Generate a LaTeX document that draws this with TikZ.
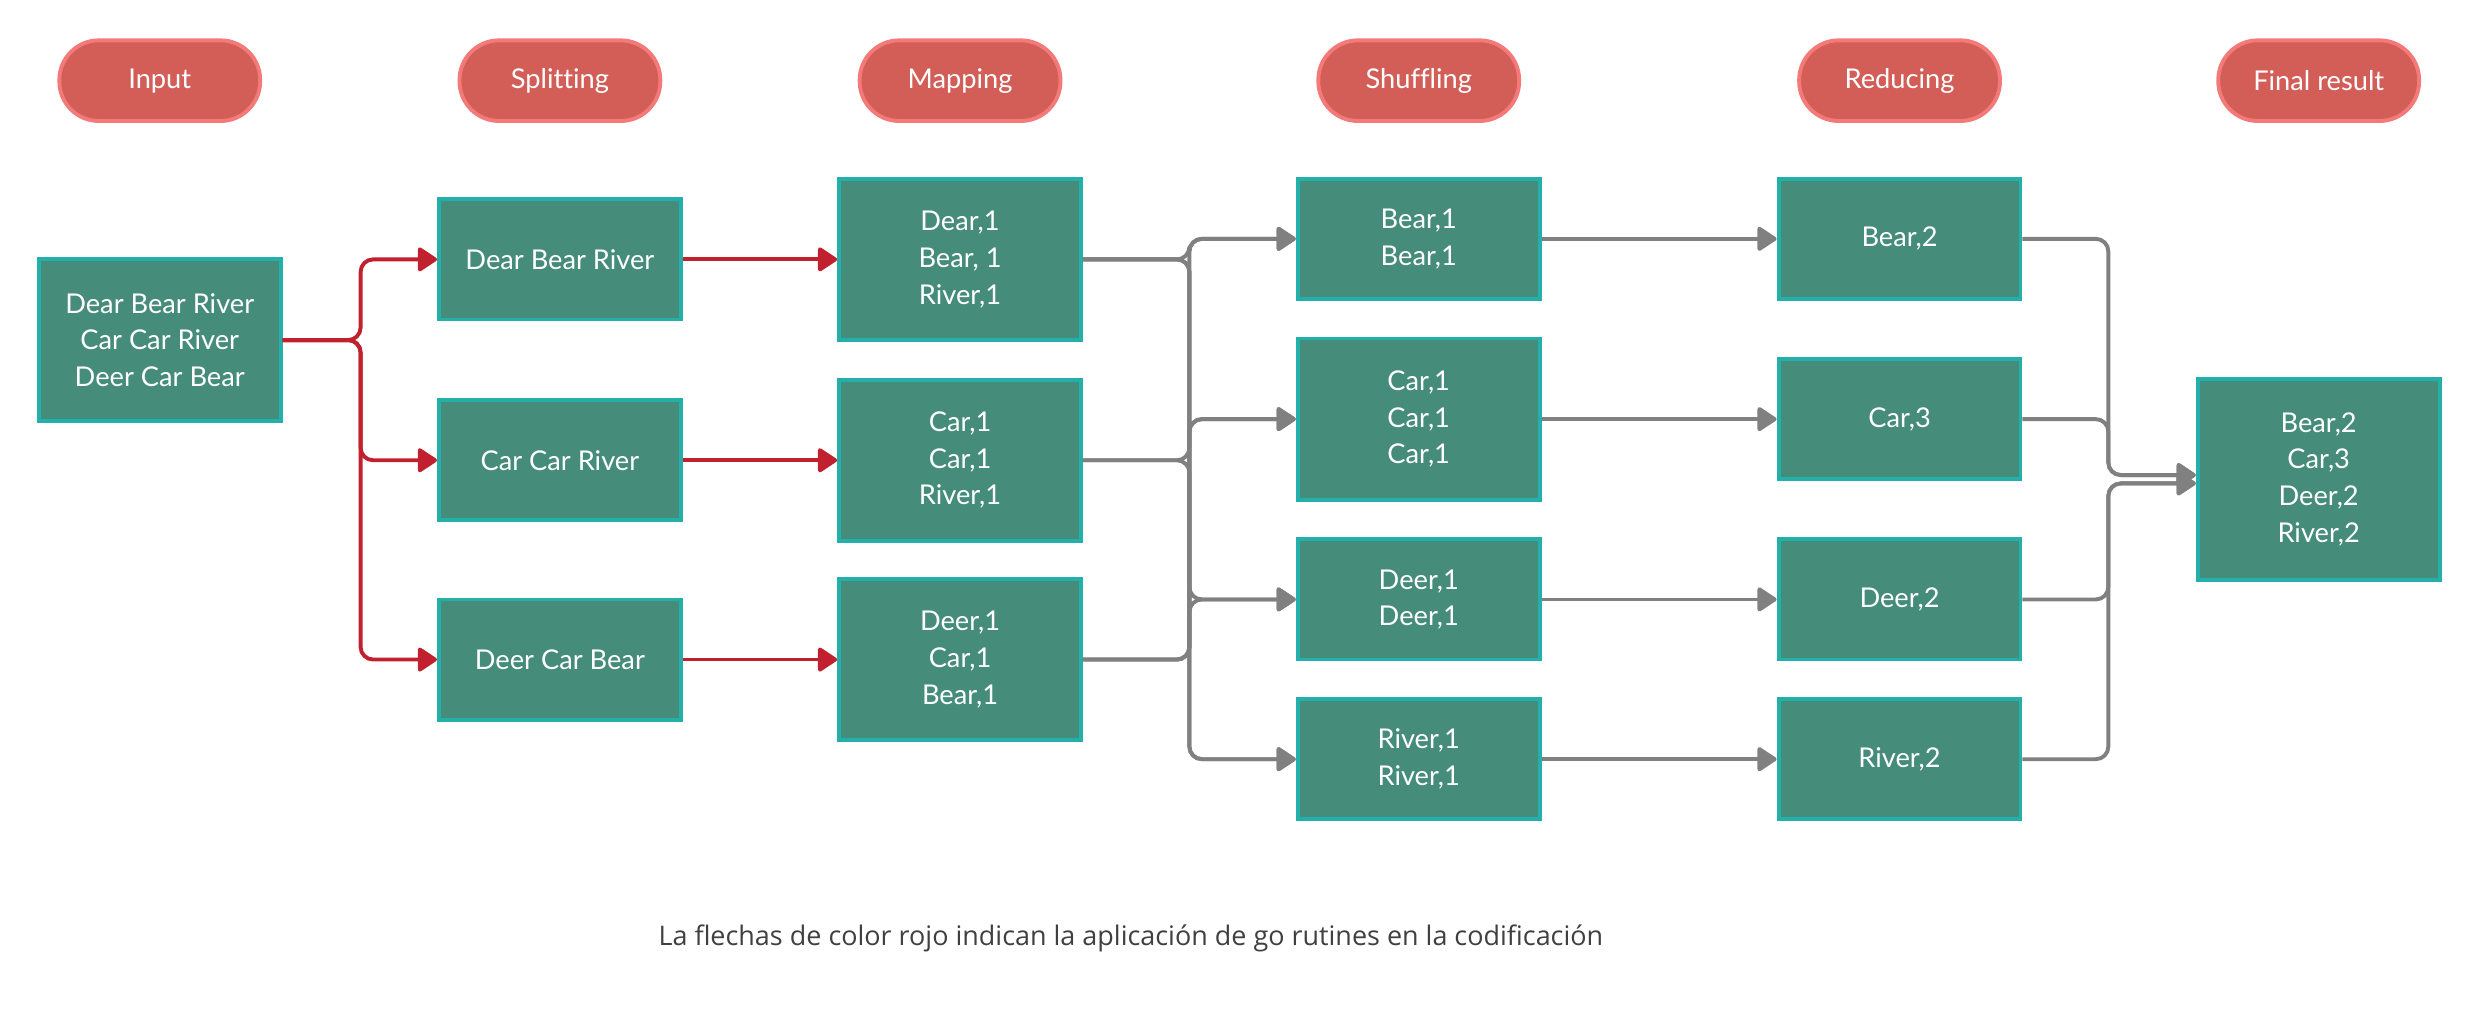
\documentclass[tikz,border=0pt]{standalone}
\usepackage{fontspec}
\setmainfont{Lato}[Ligatures=NoCommon]
\newfontfamily\capfont{Open Sans}
\usetikzlibrary{arrows.meta,positioning}
\definecolor{boxfill}{HTML}{458C7A}
\definecolor{boxline}{HTML}{23B0AA}
\definecolor{pillfill}{HTML}{D35E58}
\definecolor{pillline}{HTML}{F37A78}
\definecolor{goline}{HTML}{C1212F}
\definecolor{flowline}{HTML}{808080}
\definecolor{captext}{HTML}{404040}
\tikzset{
  stage/.style={draw=pillline,fill=pillfill,line width=1.4pt,rounded corners=0.5cm,
    minimum width=2.54cm,minimum height=1.02cm,text=white},
  wbox/.style={draw=boxline,fill=boxfill,line width=1.4pt,minimum width=3.06cm,
    text=white,align=center},
  goarrow/.style={draw=goline,line width=1.4pt,rounded corners=4.5pt,-{Triangle[length=7.5pt,width=9.5pt,round]}},
  flowarrow/.style={draw=flowline,line width=1.4pt,rounded corners=4.5pt,-{Triangle[length=7.5pt,width=9.5pt,round]}}
}
\begin{document}
\begin{tikzpicture}[x=0.02cm,y=-0.02cm,every node/.style={font=\fontsize{9.8}{13.2}\selectfont}]
\useasboundingbox (0,0) rectangle (1568,646);
% stage headers
\node[stage] (tIn) at (101,51) {Input};
\node[stage] (tSp) at (354,51) {Splitting};
\node[stage] (tMp) at (607,51) {Mapping};
\node[stage] (tSh) at (897,51) {Shuffling};
\node[stage] (tRd) at (1201,51) {Reducing};
\node[stage] (tOut) at (1466,51) {Final result};
% input
\node[wbox,minimum height=2.04cm] (in) at (101,215) {Dear Bear River\\Car Car River\\Deer Car Bear};
% splitting
\node[wbox,minimum height=1.52cm] (sp1) at (354,164) {Dear Bear River};
\node[wbox,minimum height=1.52cm] (sp2) at (354,291) {Car Car River};
\node[wbox,minimum height=1.52cm] (sp3) at (354,417) {Deer Car Bear};
% mapping
\node[wbox,minimum height=2.04cm] (mp1) at (607,164) {Dear,1\\Bear, 1\\River,1};
\node[wbox,minimum height=2.04cm] (mp2) at (607,291) {Car,1\\Car,1\\River,1};
\node[wbox,minimum height=2.04cm] (mp3) at (607,417) {Deer,1\\Car,1\\Bear,1};
% shuffling
\node[wbox,minimum height=1.52cm] (sh1) at (897,151) {Bear,1\\Bear,1};
\node[wbox,minimum height=2.04cm] (sh2) at (897,265) {Car,1\\Car,1\\Car,1};
\node[wbox,minimum height=1.52cm] (sh3) at (897,379) {Deer,1\\Deer,1};
\node[wbox,minimum height=1.52cm] (sh4) at (897,480) {River,1\\River,1};
% reducing
\node[wbox,minimum height=1.52cm] (rd1) at (1201,151) {Bear,2};
\node[wbox,minimum height=1.52cm] (rd2) at (1201,265) {Car,3};
\node[wbox,minimum height=1.52cm] (rd3) at (1201,379) {Deer,2};
\node[wbox,minimum height=1.52cm] (rd4) at (1201,480) {River,2};
% final
\node[wbox,minimum height=2.54cm] (out) at (1466,303) {Bear,2\\Car,3\\Deer,2\\River,2};
% bends
\coordinate (fork) at (228,215);
\coordinate (busA) at (752,0);
\coordinate (busB) at (1333,0);
% go routines
\draw[goarrow] (in.east) -- (fork) |- (sp1.west);
\draw[goarrow] (in.east) -- (fork) |- (sp2.west);
\draw[goarrow] (in.east) -- (fork) |- (sp3.west);
\draw[goarrow] (sp1.east) -- (mp1.west);
\draw[goarrow] (sp2.east) -- (mp2.west);
\draw[goarrow] (sp3.east) -- (mp3.west);
% shuffle
\draw[flowarrow] (mp1.east) -- (mp1.east -| busA) |- (sh1.west);
\draw[flowarrow] (mp1.east) -- (mp1.east -| busA) |- (sh3.west);
\draw[flowarrow] (mp1.east) -- (mp1.east -| busA) |- (sh4.west);
\draw[flowarrow] (mp2.east) -- (mp2.east -| busA) |- (sh2.west);
\draw[flowarrow] (mp2.east) -- (mp2.east -| busA) |- (sh4.west);
\draw[flowarrow] (mp3.east) -- (mp3.east -| busA) |- (sh3.west);
\draw[flowarrow] (mp3.east) -- (mp3.east -| busA) |- (sh2.west);
\draw[flowarrow] (mp3.east) -- (mp3.east -| busA) |- (sh1.west);
% reduce
\draw[flowarrow] (sh1.east) -- (rd1.west);
\draw[flowarrow] (sh2.east) -- (rd2.west);
\draw[flowarrow] (sh3.east) -- (rd3.west);
\draw[flowarrow] (sh4.east) -- (rd4.west);
% result
\draw[flowarrow] (rd1.east) -- (rd1.east -| busB) |- ([yshift=1.5pt]out.west);
\draw[flowarrow] (rd2.east) -- (rd2.east -| busB) |- ([yshift=1.5pt]out.west);
\draw[flowarrow] (rd3.east) -- (rd3.east -| busB) |- ([yshift=-1.5pt]out.west);
\draw[flowarrow] (rd4.east) -- (rd4.east -| busB) |- ([yshift=-1.5pt]out.west);
% note
\node[font=\capfont\fontsize{9.7}{12}\selectfont,text=captext] (note) at (715,593) {La flechas de color rojo indican la aplicación de go rutines en la codificación};
\end{tikzpicture}
\end{document}
